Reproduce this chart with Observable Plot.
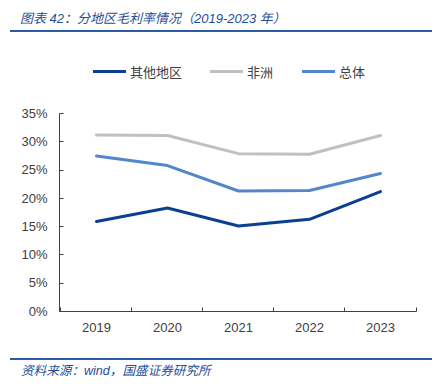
<!DOCTYPE html>
<html>
<head>
<meta charset="utf-8">
<script src="https://cdn.jsdelivr.net/npm/d3@7"></script>
<script src="https://cdn.jsdelivr.net/npm/@observablehq/plot@0.6"></script>
<style>
  html, body { margin: 0; padding: 0; background: #fff; }
  #wrap { position: relative; width: 437px; height: 384px; overflow: hidden; background: #fff; }
  .title { position: absolute; left: 20px; top: 8px; font: italic 13px "Liberation Sans", "Noto Sans CJK SC", sans-serif; color: #1f4e9a; white-space: nowrap; }
  .rule { position: absolute; left: 10px; width: 422px; height: 2px; background: #2b5aa6; }
  .legend { position: absolute; top: 61px; left: 0; width: 437px; height: 20px; font: 13px "Noto Sans CJK SC", sans-serif; color: #404040; }
  .item { position: absolute; top: 0; height: 20px; display: flex; align-items: center; white-space: nowrap; }
  .sw { display: inline-block; width: 33px; height: 3px; margin-right: 4px; }
  .source { position: absolute; left: 21px; top: 360px; font: italic 12.6px "Liberation Sans", "Noto Sans CJK SC", sans-serif; color: #1f4e9a; white-space: nowrap; }
  #chart { position: absolute; left: 0; top: 100px; }
</style>
</head>
<body>
<div id="wrap">
  <div class="title">图表 42：分地区毛利率情况（2019-2023 年）</div>
  <div class="rule" style="top:30px"></div>
  <div class="legend" id="legend"></div>
  <div id="chart"></div>
  <div class="rule" style="top:358px"></div>
  <div class="source">资料来源：wind，国盛证券研究所</div>
</div>
<script>
const years = ["2019", "2020", "2021", "2022", "2023"];
const seriesNames = ["其他地区", "非洲", "总体"];
const otherRegions = [15.9, 18.3, 15.1, 16.3, 21.2];
const africa = [31.2, 31.1, 27.9, 27.8, 31.1];
const overall = [27.5, 25.8, 21.3, 21.4, 24.4];
const yTicks = [0, 5, 10, 15, 20, 25, 30, 35];
const colors = ["#0b3f92", "#c0c0c0", "#5486cc"];

const valuesBySeries = [otherRegions, africa, overall];
const data = [];
seriesNames.forEach((s, i) => years.forEach((yr, j) => data.push({series: s, year: yr, value: valuesBySeries[i][j]})));

// Legend
const legendPos = [93, 210, 302];
const legend = document.getElementById("legend");
seriesNames.forEach((s, i) => {
  const it = document.createElement("div");
  it.className = "item";
  it.style.left = legendPos[i] + "px";
  it.innerHTML = `<span class="sw" style="background:${colors[i]}"></span><span>${s}</span>`;
  legend.appendChild(it);
});

const axisColor = "#404040";
const axisMarks = (index, scales, values, dims) => {
  const x = scales.x, y = scales.y;
  const g = d3.create("svg:g").attr("stroke", axisColor).attr("fill", "none").attr("stroke-width", 1);
  const step = (dims.width - dims.marginLeft - dims.marginRight) / years.length;
  const x0 = dims.marginLeft + 0.5;
  const yb = Math.round(y(0)) + 0.5;
  g.append("path").attr("d", `M${x0},${Math.round(y(35)) + 0.5}V${yb}`);
  yTicks.forEach(t => {
    const yy = Math.round(y(t)) + 0.5;
    g.append("path").attr("d", `M${x0},${yy}H${x0 + 4}`);
  });
  const bounds = years.map(yr => x(yr) - step / 2).concat([x(years[years.length - 1]) + step / 2]);
  g.append("path").attr("d", `M${x0},${yb}H${Math.round(bounds[bounds.length - 1]) + 0.5}`);
  bounds.forEach(b => {
    const bx = Math.round(b) + 0.5;
    g.append("path").attr("d", `M${bx},${yb}V${yb - 4}`);
  });
  return g.node();
};

const chart = Plot.plot({
  width: 437,
  height: 245,
  marginLeft: 59,
  marginRight: 21,
  marginTop: 13,
  marginBottom: 34,
  style: {fontFamily: "Liberation Sans, sans-serif", fontSize: "13px", color: "#404040", background: "#fff"},
  x: {type: "point", domain: years, padding: 0.5, label: null},
  y: {domain: [0, 35], label: null},
  color: {domain: seriesNames, range: colors},
  marks: [
    Plot.axisX({tickSize: 0, tickPadding: 11, fontSize: 13, fill: "#404040", label: null}),
    Plot.axisY({ticks: yTicks, tickSize: 0, tickPadding: 12, tickFormat: d => d + "%", fontSize: 13, fill: "#404040", label: null}),
    axisMarks,
    Plot.line(data, {x: "year", y: "value", z: "series", stroke: "series", strokeWidth: 3, strokeLinejoin: "round"})
  ]
});
document.getElementById("chart").appendChild(chart);
</script>
</body>
</html>
